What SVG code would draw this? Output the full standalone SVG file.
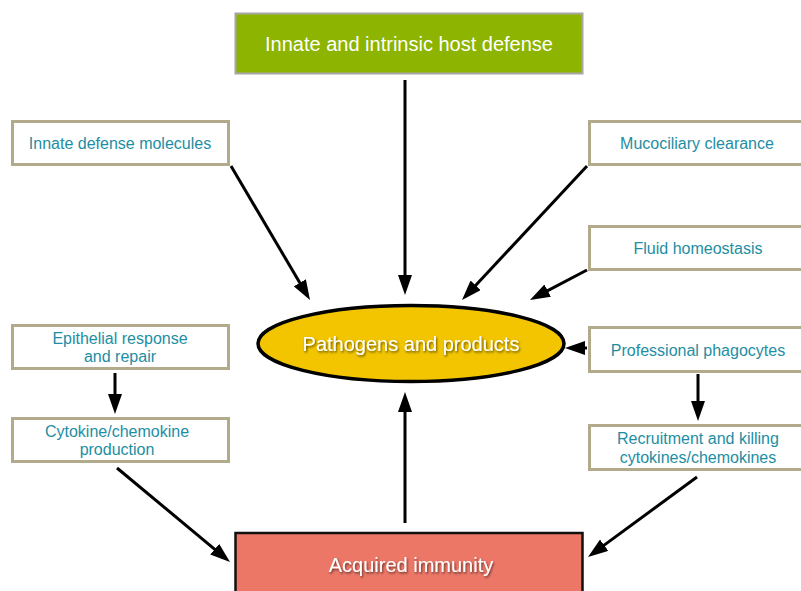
<svg xmlns="http://www.w3.org/2000/svg" width="801" height="591" viewBox="0 0 801 591">
<style>
.box{fill:#ffffff;stroke:#b1ab8c;stroke-width:3}
.lbl{font-family:"Liberation Sans",Arial,sans-serif;font-size:16px;fill:#1d8ea3;text-anchor:middle}
.big{font-family:"Liberation Sans",Arial,sans-serif;font-size:20px;fill:#ffffff;text-anchor:middle}
.conn line{stroke:#000;stroke-width:3;marker-end:url(#ah)}
</style>
<defs>
<marker id="ah" markerUnits="userSpaceOnUse" markerWidth="20" markerHeight="14" refX="8" refY="7" orient="auto" viewBox="0 0 20 14">
<path d="M0,0 L20,7 L0,14 z" fill="#000"/>
</marker>
<filter id="sh" x="-10%" y="-30%" width="120%" height="160%">
<feDropShadow dx="1" dy="1.5" stdDeviation="1" flood-color="#000" flood-opacity="0.6"/>
</filter>
</defs>
<rect width="801" height="591" fill="#ffffff"/>
<g class="conn">
<line x1="405" y1="80" x2="405" y2="283"/>
<line x1="231" y1="166" x2="303.9" y2="289.7"/>
<line x1="587" y1="166" x2="470.2" y2="291.2"/>
<line x1="587" y1="270" x2="540.6" y2="294.4"/>
<line x1="587" y1="348" x2="577" y2="348"/>
<line x1="698" y1="374" x2="698" y2="409"/>
<line x1="115" y1="373" x2="115" y2="402"/>
<line x1="117" y1="468" x2="220.8" y2="554.3"/>
<line x1="697" y1="477" x2="597.7" y2="549.9"/>
<line x1="405" y1="523" x2="405" y2="404"/>
</g>
<g id="innate-host">
<rect x="235.5" y="13.5" width="347" height="60" fill="#8db400" stroke="#a6a6a6" stroke-width="2"/>
<text class="big" x="409" y="51">Innate and intrinsic host defense</text>
</g>
<g id="innate-molecules">
<rect class="box" x="12.5" y="121.5" width="216" height="43"/>
<text class="lbl" x="120" y="149">Innate defense molecules</text>
</g>
<g id="mucociliary">
<rect class="box" x="589.5" y="121.5" width="216" height="43"/>
<text class="lbl" x="697" y="149">Mucociliary clearance</text>
</g>
<g id="fluid">
<rect class="box" x="589.5" y="226.5" width="216" height="43"/>
<text class="lbl" x="698" y="254">Fluid homeostasis</text>
</g>
<g id="phagocytes">
<rect class="box" x="589.5" y="327.5" width="216" height="44"/>
<text class="lbl" x="698" y="356">Professional phagocytes</text>
</g>
<g id="recruitment">
<rect class="box" x="589.5" y="425.5" width="216" height="44"/>
<text class="lbl" x="698" y="444">Recruitment and killing</text>
<text class="lbl" x="698" y="463">cytokines/chemokines</text>
</g>
<g id="epithelial">
<rect class="box" x="12.5" y="325.5" width="216" height="43"/>
<text class="lbl" x="120" y="344">Epithelial response</text>
<text class="lbl" x="120" y="362">and repair</text>
</g>
<g id="cytokine">
<rect class="box" x="12.5" y="418.5" width="216" height="43"/>
<text class="lbl" x="117" y="437">Cytokine/chemokine</text>
<text class="lbl" x="117" y="455">production</text>
</g>
<g id="pathogens">
<ellipse cx="411" cy="343.5" rx="153" ry="38" fill="#f2c500" stroke="#000" stroke-width="3.5"/>
<text class="big" x="411" y="351" filter="url(#sh)">Pathogens and products</text>
</g>
<g id="acquired">
<rect x="235.5" y="533" width="347" height="62" fill="#ec7767" stroke="#111" stroke-width="2.5"/>
<text class="big" x="411" y="572" filter="url(#sh)">Acquired immunity</text>
</g>
</svg>
